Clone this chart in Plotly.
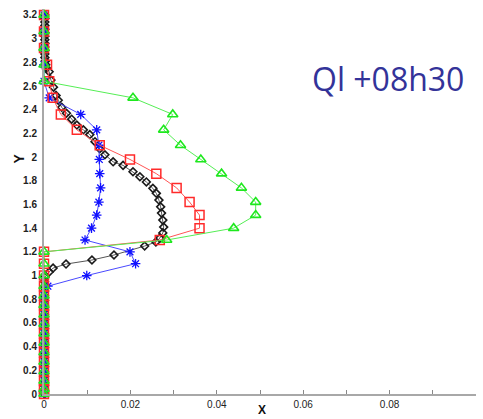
import plotly.graph_objects as go

# Shared vertical grid for the coarse profiles
y_grid = [3.2, 3.06, 2.92, 2.78, 2.64, 2.5, 2.36, 2.23, 2.1, 1.98, 1.86, 1.74,
          1.62, 1.51, 1.4, 1.3, 1.2, 1.1, 1.0, 0.91, 0.83, 0.75, 0.67, 0.59,
          0.51, 0.43, 0.35, 0.27, 0.19, 0.11, 0.04, 0.0]

x_red = [0, 0, 0, 0.0007, 0.0012, 0.002, 0.0039, 0.0076, 0.0129, 0.0199, 0.026,
         0.0307, 0.0337, 0.036, 0.036, 0.0268, 0, 0, 0, 0, 0, 0, 0, 0,
         0, 0, 0, 0, 0, 0, 0, 0]

x_green = [0, 0, 0, 0, 0, 0.0206, 0.0298, 0.0277, 0.0316, 0.0363, 0.0411,
           0.0457, 0.049, 0.049, 0.0439, 0.0284, 0, 0, 0, 0, 0, 0, 0, 0,
           0, 0, 0, 0, 0, 0, 0, 0]

x_blue = [0, 0, 0, 0, 0, 0.0012, 0.0085, 0.0122, 0.0127, 0.0128, 0.0129,
          0.0131, 0.0127, 0.0122, 0.011, 0.0095, 0.0199, 0.0212, 0.0099,
          0.0009, 0, 0, 0, 0, 0, 0, 0, 0, 0, 0, 0, 0]

# Fine-resolution profile
y_black = [3.2, 3.17, 3.14, 3.11, 3.08, 3.05, 3.02, 2.99, 2.96, 2.93, 2.9,
           2.87, 2.84, 2.81, 2.78, 2.75, 2.72, 2.65, 2.59, 2.52, 2.48, 2.42,
           2.37, 2.32, 2.27, 2.23, 2.19, 2.13, 2.07, 2.02, 1.96, 1.93, 1.876,
           1.834, 1.79, 1.736, 1.694, 1.637, 1.58, 1.527, 1.468, 1.409, 1.36,
           1.316, 1.283, 1.249, 1.173, 1.131, 1.097, 1.063, 1.03, 0.987,
           0.95, 0.91, 0.87, 0.83, 0.79, 0.75, 0.71, 0.67, 0.63, 0.59, 0.55,
           0.51, 0.47, 0.43, 0.39, 0.35, 0.31, 0.27, 0.23, 0.19, 0.15, 0.11,
           0.07, 0.03, 0.0]
x_black = [0.0002, 0.0002, 0.0002, 0.0002, 0.0002, 0.0002, 0.0002, 0.0002,
           0.0002, 0.0002, 0.0002, 0.0002, 0.0002, 0.0003, 0.0004, 0.0006,
           0.0012, 0.0016, 0.0022, 0.0028, 0.0033, 0.0041, 0.0052, 0.0064,
           0.0076, 0.0091, 0.0106, 0.0118, 0.0129, 0.0141, 0.016, 0.0183,
           0.0206, 0.0222, 0.0237, 0.0252, 0.026, 0.0266, 0.027, 0.0272,
           0.0275, 0.0277, 0.0275, 0.0268, 0.0259, 0.0233, 0.0162, 0.0111,
           0.0051, 0.0021, 0.0012, 0.0002, 0.0001, 0.0001, 0.0001, 0.0001,
           0.0001, 0.0001, 0.0001, 0.0001, 0.0001, 0.0001, 0.0001, 0.0001,
           0.0001, 0.0001, 0.0001, 0.0001, 0.0001, 0.0001, 0.0001, 0.0001,
           0.0001, 0.0001, 0.0001, 0.0001, 0.0001]

label_text = "Ql +08h30"

fig = go.Figure()

fig.add_trace(go.Scatter(
    x=x_black, y=y_black, mode="lines+markers", cliponaxis=False,
    line=dict(color="#555555", width=1),
    marker=dict(symbol="diamond-open", size=6, color="#1a1a1a",
                line=dict(width=1.6, color="#1a1a1a"))))

fig.add_trace(go.Scatter(
    x=x_blue, y=y_grid, mode="lines+markers", cliponaxis=False,
    line=dict(color="#4a4aff", width=1),
    marker=dict(symbol="asterisk-open", size=8, color="#1010ff",
                line=dict(width=1.3, color="#1010ff"))))

fig.add_trace(go.Scatter(
    x=x_red, y=y_grid, mode="lines+markers", cliponaxis=False,
    line=dict(color="#ff5555", width=1),
    marker=dict(symbol="square-open", size=9, color="#ff2a2a",
                line=dict(width=1.5, color="#ff2a2a"))))

fig.add_trace(go.Scatter(
    x=x_green, y=y_grid, mode="lines+markers", cliponaxis=False,
    line=dict(color="#55ee55", width=1),
    marker=dict(symbol="triangle-up-open", size=9, color="#1ee81e",
                line=dict(width=1.6, color="#1ee81e"))))

fig.update_layout(
    width=483, height=419,
    margin=dict(l=44, r=7, t=9, b=25),
    paper_bgcolor="white", plot_bgcolor="white",
    showlegend=False,
    font=dict(family="Liberation Sans, Arial, sans-serif", color="#222222"),
)

fig.update_xaxes(
    range=[0, 0.1], dtick=0.02, tick0=0,
    showgrid=False, zeroline=False,
    showline=True, linecolor="#a8a8a8", linewidth=2,
    ticks="inside", ticklen=4, tickcolor="#888888", tickwidth=1,
    minor=dict(dtick=0.01, ticks="inside", ticklen=4, tickcolor="#888888"),
    tickfont=dict(size=10, color="#222222"),
)
fig.update_yaxes(
    range=[0, 3.25], dtick=0.2, tick0=0,
    showgrid=False, zeroline=False,
    showline=True, linecolor="#a8a8a8", linewidth=2,
    ticks="", ticklabelstandoff=3,
    tickfont=dict(size=10, color="#222222", weight="bold"),
)

fig.add_annotation(x=-0.08, y=0.613, xref="paper", yref="paper",
                   text="<b>Y</b>", showarrow=False, textangle=-90,
                   font=dict(size=14, color="#111111"))
fig.add_annotation(x=0.505, y=-0.018, xref="paper", yref="paper",
                   text="<b>X</b>", showarrow=False, yanchor="top",
                   font=dict(size=12, color="#111111"))

fig.add_annotation(x=0.0797, y=2.66, xref="x", yref="y",
                   text=label_text, showarrow=False,
                   xanchor="center", yanchor="middle",
                   font=dict(size=32, color="#333399",
                             family="Open Sans, sans-serif"))

fig.write_html("out.html")
